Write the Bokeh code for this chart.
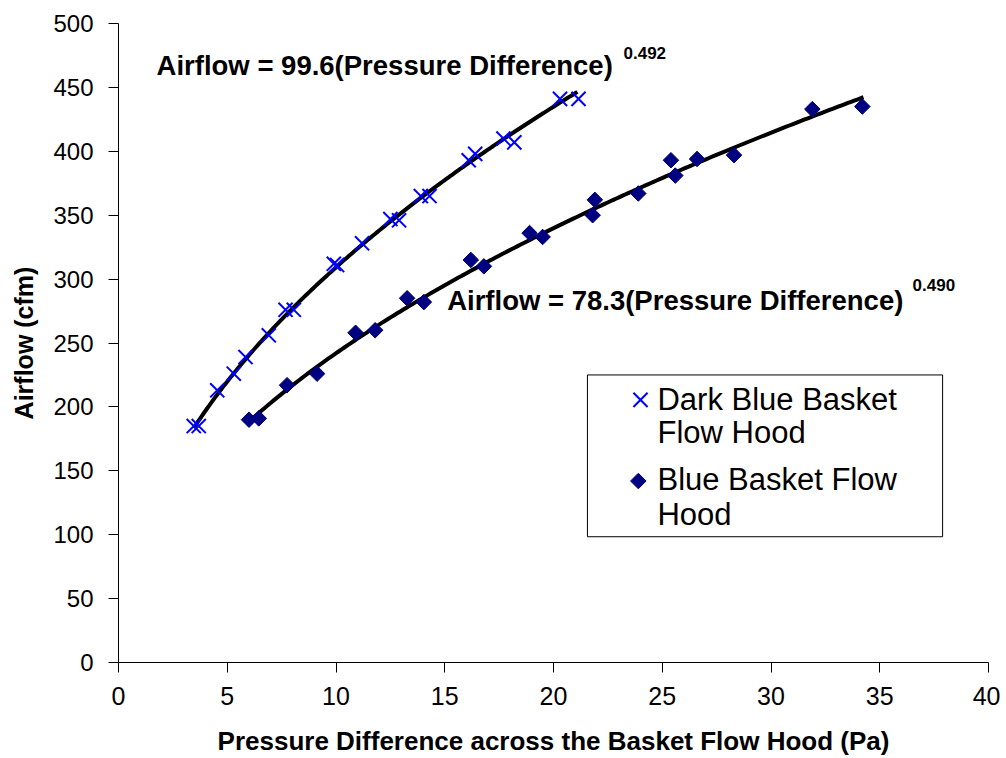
from bokeh.plotting import figure
from bokeh.models import Range1d, FixedTicker
from bokeh.embed import file_html
from bokeh.resources import INLINE
from bokeh.core.properties import value
import numpy as np

# ---- data ----
dark_x = [3.46, 3.69, 4.54, 5.30, 5.84, 6.91, 7.68, 8.06, 9.90, 10.05, 11.2, 12.5, 12.9,
          13.9, 14.3, 16.1, 16.4, 17.7, 18.2, 20.3, 21.15]
dark_y = [185, 185, 213, 226, 239, 256, 276, 276, 312, 311, 328, 347, 346,
          365, 365, 393, 398, 410, 407, 441, 441]
blue_x = [6.0, 6.45, 7.75, 9.13, 10.9, 11.8, 13.27, 14.04, 16.2, 16.8, 18.9, 19.5, 21.8,
          21.9, 23.9, 25.4, 25.6, 26.6, 28.3, 31.9, 34.2]
blue_y = [190, 191, 217, 226, 258, 260, 285, 282, 315, 310, 336, 333, 350,
          362, 367, 393, 381, 394, 397, 433, 435]

dark_coef, dark_exp, dark_range = 99.6, 0.492, (3.46, 21.1)
blue_coef, blue_exp, blue_range = 78.3, 0.490, (6.0, 34.25)

x_ticks = [0, 5, 10, 15, 20, 25, 30, 35, 40]
y_ticks = [0, 50, 100, 150, 200, 250, 300, 350, 400, 450, 500]

FONT = "Liberation Sans"

p = figure(width=1000, height=758, output_backend="svg", toolbar_location=None,
           x_range=Range1d(0, 40), y_range=Range1d(0, 500),
           min_border_left=118, min_border_right=12, min_border_top=23, min_border_bottom=92)
p.outline_line_color = None
p.grid.visible = False
p.background_fill_color = "white"

# axes
p.xaxis.ticker = FixedTicker(ticks=x_ticks)
p.yaxis.ticker = FixedTicker(ticks=y_ticks)
for ax in (p.xaxis, p.yaxis):
    ax.axis_line_color = "black"
    ax.axis_line_width = 1
    ax.major_tick_line_color = "black"
    ax.major_tick_in = 0
    ax.major_tick_out = 10
    ax.minor_tick_line_color = None
    ax.major_label_text_color = "black"
    ax.axis_label_text_color = "black"
    ax.axis_label_text_font_style = "bold"
    ax.major_label_text_font = FONT
    ax.axis_label_text_font = FONT

p.xaxis.major_label_text_font_size = "25px"
p.xaxis.major_label_standoff = 14
p.xaxis.axis_label = "Pressure Difference across the Basket Flow Hood (Pa)"
p.xaxis.axis_label_text_font_size = "26px"
p.xaxis.axis_label_standoff = 18

p.yaxis.major_label_text_font_size = "24px"
p.yaxis.major_label_standoff = 15
p.yaxis.axis_label = "Airflow (cfm)"
p.yaxis.axis_label_text_font_size = "25px"
p.yaxis.axis_label_standoff = 12

# trend lines
xd = np.linspace(dark_range[0], dark_range[1], 200)
p.line(xd, dark_coef * xd ** dark_exp, line_color="black", line_width=4)
xb = np.linspace(blue_range[0], blue_range[1], 200)
p.line(xb, blue_coef * xb ** blue_exp, line_color="black", line_width=4)

# points
p.scatter(dark_x, dark_y, marker="x", size=20, line_color="#0000FF", line_width=2)
p.scatter(blue_x, blue_y, marker="square", angle=np.pi / 4, size=11,
          fill_color="#000080", line_color="#000080")

# equations
p.text([1.75], [467.2], text=["Airflow = 99.6(Pressure Difference)"], text_font=value(FONT),
       text_font_size="27.5px", text_font_style="bold", text_baseline="middle", text_color="black")
p.text([23.22], [476.6], text=["0.492"], text_font=value(FONT),
       text_font_size="17px", text_font_style="bold", text_baseline="middle", text_color="black")
p.text([15.11], [283.6], text=["Airflow = 78.3(Pressure Difference)"], text_font=value(FONT),
       text_font_size="27.5px", text_font_style="bold", text_baseline="middle", text_color="black")
p.text([36.51], [295.3], text=["0.490"], text_font=value(FONT),
       text_font_size="17px", text_font_style="bold", text_baseline="middle", text_color="black")

# legend (manual)
p.quad(left=[21.56], right=[37.89], bottom=[98.4], top=[225], fill_color="white",
       line_color="black", line_width=1)
p.scatter([24.0], [205.5], marker="x", size=20, line_color="#0000FF", line_width=2)
p.scatter([23.9], [142], marker="square", angle=np.pi / 4, size=11,
          fill_color="#000080", line_color="#000080")
p.text([24.78, 24.78, 24.78, 24.78], [205.5, 179.7, 143.0, 115.6],
       text=["Dark Blue Basket", "Flow Hood", "Blue Basket Flow", "Hood"],
       text_font=value(FONT), text_font_size="31px", text_baseline="middle", text_color="black")

open("out.html", "w").write(file_html(p, INLINE))
